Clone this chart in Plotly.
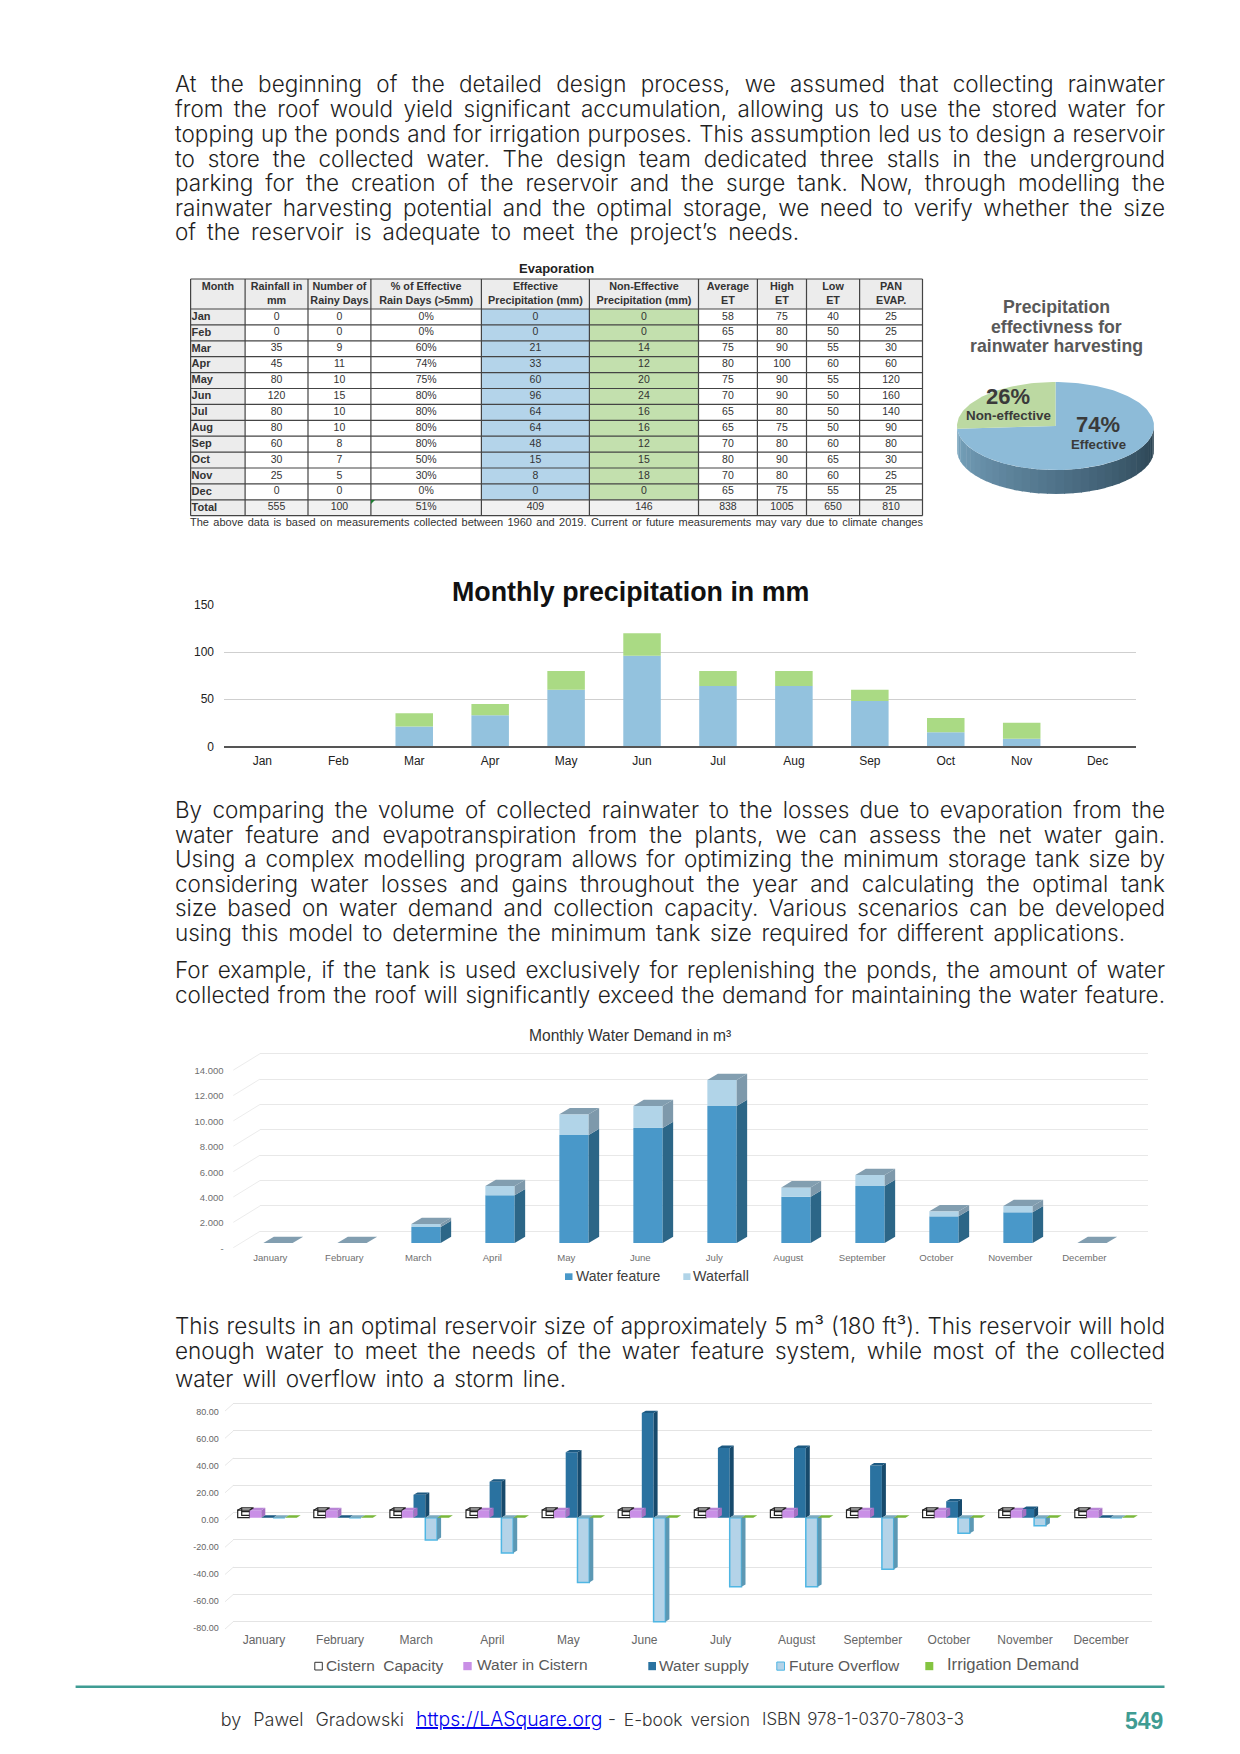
import json
import numpy as np
import plotly.graph_objects as go

W, H = 1240, 1754
SANS = "Liberation Sans"
BODY = "Inter"

# ---------------- text ----------------
para_lines = [
    ("At the beginning of the detailed design process, we assumed that collecting rainwater", 84, 1165),
    ("from the roof would yield significant accumulation, allowing us to use the stored water for", 108.7, 1165),
    ("topping up the ponds and for irrigation purposes. This assumption led us to design a reservoir", 133.4, 1165),
    ("to store the collected water. The design team dedicated three stalls in the underground", 158, 1165),
    ("parking for the creation of the reservoir and the surge tank. Now, through modelling the", 182.7, 1165),
    ("rainwater harvesting potential and the optimal storage, we need to verify whether the size", 207.4, 1165),
    ("of the reservoir is adequate to meet the project’s needs.", 232, 799),
    ("By comparing the volume of collected rainwater to the losses due to evaporation from the", 809.5, 1165),
    ("water feature and evapotranspiration from the plants, we can assess the net water gain.", 834, 1165),
    ("Using a complex modelling program allows for optimizing the minimum storage tank size by", 858.6, 1165),
    ("considering water losses and gains throughout the year and calculating the optimal tank", 883.2, 1165),
    ("size based on water demand and collection capacity. Various scenarios can be developed", 907.8, 1165),
    ("using this model to determine the minimum tank size required for different applications.", 932.5, 1125),
    ("For example, if the tank is used exclusively for replenishing the ponds, the amount of water", 969.3, 1165),
    ("collected from the roof will significantly exceed the demand for maintaining the water feature.", 994, 1165),
    ("This results in an optimal reservoir size of approximately 5 m³ (180 ft³). This reservoir will hold", 1325, 1165),
    ("enough water to meet the needs of the water feature system, while most of the collected", 1350, 1165),
    ("water will overflow into a storm line.", 1378, 566),
]
note_line = "The above data is based on measurements collected between 1960 and 2019. Current or future measurements may vary due to climate changes"

# ---------------- table data ----------------
months_short = ["Jan", "Feb", "Mar", "Apr", "May", "Jun", "Jul", "Aug", "Sep", "Oct", "Nov", "Dec"]
months_long = ["January", "February", "March", "April", "May", "June", "July", "August",
               "September", "October", "November", "December"]
table_headers = ["Month", "Rainfall in<br>mm", "Number of<br>Rainy Days", "% of Effective<br>Rain Days (>5mm)",
                 "Effective<br>Precipitation (mm)", "Non-Effective<br>Precipitation (mm)", "Average<br>ET",
                 "High<br>ET", "Low<br>ET", "PAN<br>EVAP."]
rainfall = [0, 0, 35, 45, 80, 120, 80, 80, 60, 30, 25, 0, 555]
rainy_days = [0, 0, 9, 11, 10, 15, 10, 10, 8, 7, 5, 0, 100]
pct_effective = ["0%", "0%", "60%", "74%", "75%", "80%", "80%", "80%", "80%", "50%", "30%", "0%", "51%"]
effective_total = [0, 0, 21, 33, 60, 96, 64, 64, 48, 15, 8, 0, 409]
non_effective_total = [0, 0, 14, 12, 20, 24, 16, 16, 12, 15, 18, 0, 146]
average_et = [58, 65, 75, 80, 75, 70, 65, 65, 70, 80, 70, 65, 838]
high_et = [75, 80, 90, 100, 90, 90, 80, 75, 80, 90, 80, 75, 1005]
low_et = [40, 50, 55, 60, 55, 50, 50, 50, 60, 65, 60, 55, 650]
pan_evap = [25, 25, 30, 60, 120, 160, 140, 90, 80, 30, 25, 25, 810]

# ---------------- pie data ----------------
pie_labels = ["Effective", "Non-effective"]
pie_values = [74, 26]

# ---------------- monthly precipitation ----------------
precip_effective = [0, 0, 21, 33, 60, 96, 64, 64, 48, 15, 8, 0]
precip_non_effective = [0, 0, 14, 12, 20, 24, 16, 16, 12, 15, 17, 0]

# ---------------- monthly water demand ----------------
water_feature = [0, 0, 1260, 3760, 8515, 9070, 10800, 3650, 4495, 2100, 2420, 0]
waterfall = [0, 0, 240, 735, 1630, 1730, 2050, 735, 865, 395, 500, 0]
demand_ticks = [0, 2000, 4000, 6000, 8000, 10000, 12000, 14000]
demand_ticktext = ["-", "2.000", "4.000", "6.000", "8.000", "10.000", "12.000", "14.000"]

# ---------------- cistern balance ----------------
cistern_capacity = [5.5, 5.5, 5.5, 5.5, 5.5, 5.5, 5.5, 5.5, 5.5, 5.5, 5.5, 5.5]
water_in_cistern = [5.5, 5.5, 5.5, 5.5, 5.5, 5.5, 5.5, 5.5, 5.5, 5.5, 5.5, 5.5]
water_supply = [0, 0, 16.8, 26.4, 48, 76.8, 51.2, 51.2, 38.4, 12, 6.4, 0]
future_overflow = [0, 0, -16.3, -25.9, -47.5, -76.3, -50.7, -50.7, -37.9, -11.5, -5.9, 0]
irrigation_demand = [0, 0, 0, 0, 0, 0, 0, 0, 0, 0, 0, 0]
balance_ticks = [-80, -60, -40, -20, 0, 20, 40, 60, 80]

# ---------------- helpers ----------------
def dx(a, b):
    return [a / W, b / W]

def dy(t, b):
    return [1 - b / H, 1 - t / H]

fig = go.Figure()
annotations, shapes, axes = [], [], {}

def txt(x, y, text, size, color="#222", anchor="left", family=SANS, bold=False, weight=None):
    font = dict(size=size, color=color, family=family)
    if bold:
        font["weight"] = 700
    if weight:
        font["weight"] = weight
    annotations.append(dict(x=x / W, y=1 - y / H, xref="paper", yref="paper", text=text, showarrow=False,
                            xanchor=anchor, yanchor="middle", font=font, borderpad=0, borderwidth=0))

def rect_px(x0, y0, x1, y1, fill, line=None, lw=0):
    shapes.append(dict(type="rect", xref="paper", yref="paper", x0=x0 / W, x1=x1 / W, y0=1 - y0 / H, y1=1 - y1 / H,
                       fillcolor=fill, line=dict(color=line or fill, width=lw), layer="below"))

def line_px(x0, y0, x1, y1, color, width=1, layer="below"):
    shapes.append(dict(type="line", xref="paper", yref="paper", x0=x0 / W, x1=x1 / W, y0=1 - y0 / H, y1=1 - y1 / H,
                       line=dict(color=color, width=width), layer=layer))

def polys(rings):
    xs, ys = [], []
    for r in rings:
        for p in r + [r[0]]:
            xs.append(p[0]); ys.append(p[1])
        xs.append(None); ys.append(None)
    return xs, ys

def face(rings, color, n, name):
    xs, ys = polys(rings)
    fig.add_trace(go.Scatter(x=xs, y=ys, mode="lines", fill="toself", fillcolor=color,
                             line=dict(width=0, color=color), hoverinfo="skip", showlegend=False,
                             name=name, xaxis=f"x{n}", yaxis=f"y{n}"))

def label_axis(n, x0, x1, t, b, rng, vals, text, size, color):
    axes[f"xaxis{n}"] = dict(domain=dx(x0, x1), anchor=f"y{n}", visible=False, range=[0, 1])
    axes[f"yaxis{n}"] = dict(domain=dy(t, b), anchor=f"x{n}", range=rng, tickmode="array", tickvals=vals,
                             ticktext=text, showgrid=False, zeroline=False, showline=False, ticks="outside",
                             ticklen=2, tickcolor="rgba(0,0,0,0)", tickfont=dict(size=size, color=color, family=SANS))
    fig.add_trace(go.Scatter(x=[0.5], y=[vals[0]], mode="markers", marker=dict(size=1, opacity=0),
                             hoverinfo="skip", showlegend=False, xaxis=f"x{n}", yaxis=f"y{n}"))

# ---------------- paragraphs ----------------
fit = {}
for line, y, xr in para_lines:
    txt(175, y, line, 22.5, "#1f1f1f", family=BODY, weight=300)
    fit[line] = [175, xr]

# ---------------- table ----------------
col_edges = [190.6, 245.1, 308, 370.9, 481.4, 589.4, 698.5, 757.4, 806.5, 859.6, 922.5]
row_px = 15.9
top_px, head_px = 279, 309
row_edges = [head_px + r * row_px for r in range(14)]
rows = months_short + ["Total"]
body_cols = [rainfall, rainy_days, pct_effective, effective_total, non_effective_total, average_et, high_et,
             low_et, pan_evap]
centres = [(a + b) / 2 for a, b in zip(col_edges[:-1], col_edges[1:])]
grey = "#ececec"
rect_px(col_edges[0], top_px, col_edges[-1], head_px, grey)
rect_px(col_edges[0], head_px, col_edges[1], row_edges[-1], grey)
rect_px(col_edges[1], row_edges[-2], col_edges[-1], row_edges[-1], "#f1f1f1")
rect_px(col_edges[4], head_px, col_edges[5], row_edges[-2], "#b4d4ea")
rect_px(col_edges[5], head_px, col_edges[6], row_edges[-2], "#c3e0ae")
for y in [top_px] + row_edges:
    line_px(col_edges[0], y, col_edges[-1], y, "#444", 1.2, "above")
for x in col_edges:
    line_px(x, top_px, x, row_edges[-1], "#444", 1.2, "above")
axes["xaxis7"] = dict(domain=dx(190, 923.5), anchor="y7", range=[190, 923.5], showgrid=False, zeroline=False,
                      showline=False, showticklabels=False, ticks="")
axes["yaxis7"] = dict(domain=dy(278, 516.7), anchor="x7", range=[12.5 + 1 / row_px, -0.5 - 31 / row_px],
                      showgrid=False, zeroline=False, showline=False, showticklabels=False, ticks="")
head_y = -0.5 - 15 / row_px
fig.add_trace(go.Scatter(x=centres, y=[head_y - 6.5 / row_px] + [head_y] * 9, mode="text",
                         text=[f"<b>{h}</b>" for h in table_headers], textposition="middle center",
                         textfont=dict(size=10.8, color="#333", family=SANS), hoverinfo="skip", showlegend=False,
                         name="Table header", xaxis="x7", yaxis="y7"))
fig.add_trace(go.Scatter(x=[col_edges[0] + 1] * 13, y=list(range(13)), mode="text",
                         text=[f"<b>{m}</b>" for m in rows], textposition="middle right",
                         textfont=dict(size=11, color="#333", family=SANS), hoverinfo="skip", showlegend=False,
                         name="Month", xaxis="x7", yaxis="y7"))
for c, col in zip(centres[1:], body_cols):
    fig.add_trace(go.Scatter(x=[c] * 13, y=list(range(13)), mode="text", text=[str(v) for v in col],
                             textposition="middle center", textfont=dict(size=10.5, color="#333", family=SANS),
                             hoverinfo="skip", showlegend=False, xaxis="x7", yaxis="y7"))
txt(556.5, 269, "Evaporation", 13, "#222", "center", bold=True)
txt(190, 522, note_line, 11, "#333")
fit[note_line] = [190, 923]
shapes.append(dict(type="path", xref="paper", yref="paper",
                   path=f"M {371/W} {1-500/H} L {375/W} {1-500/H} L {371/W} {1-504/H} Z",
                   fillcolor="#1e7d32", line=dict(width=0)))

# ---------------- pie ----------------
axes["xaxis1"] = dict(domain=dx(945, 1165), anchor="y1", range=[945, 1165], visible=False)
axes["yaxis1"] = dict(domain=dy(375, 500), anchor="x1", range=[500, 375], visible=False)
cx, cy, ra, rb, depth = 1055.5, 426, 98.5, 44, 24
share_blue = pie_values[0] / sum(pie_values)
def ell(t):
    return cx + ra * np.cos(t), cy - rb * np.sin(t)
wall_cols_n = 36
edges = np.linspace(np.pi, 2 * np.pi, wall_cols_n + 1)
c_l, c_m, c_r = np.array([122, 166, 192]), np.array([80, 115, 138]), np.array([40, 64, 78])
for i in range(wall_cols_n):
    f = i / (wall_cols_n - 1)
    c = c_l + (c_m - c_l) * f * 2 if f < 0.5 else c_m + (c_r - c_m) * (f - 0.5) * 2
    tt = np.linspace(edges[i], edges[i + 1] + 0.01, 4)
    px_, py_ = ell(tt)
    ring_x = list(px_) + list(px_[::-1])
    ring_y = list(py_) + list((py_ + depth)[::-1])
    col = "rgb(%d,%d,%d)" % tuple(c)
    fig.add_trace(go.Scatter(x=ring_x + [ring_x[0]], y=ring_y + [ring_y[0]], mode="lines", fill="toself",
                             fillcolor=col, line=dict(width=0, color=col), hoverinfo="skip",
                             showlegend=False, xaxis="x1", yaxis="y1"))
start = np.pi / 2
t_blue = np.linspace(start, start - 2 * np.pi * share_blue, 160)
t_green = np.linspace(start, start + 2 * np.pi * (1 - share_blue), 60)
for tset, col, name in ((t_blue, "#8dbbd8", pie_labels[0]), (t_green, "#bcd9a2", pie_labels[1])):
    ex, ey = ell(tset)
    fig.add_trace(go.Scatter(x=[cx] + list(ex) + [cx], y=[cy] + list(ey) + [cy], mode="lines", fill="toself",
                             fillcolor=col, line=dict(width=0, color=col), name=name, hoverinfo="skip",
                             showlegend=False, xaxis="x1", yaxis="y1"))
for y, t in ((307, "Precipitation"), (327, "effectivness for"), (346, "rainwater harvesting")):
    txt(1056, y, t, 17.7, "#595959", "center", bold=True)
txt(1007.5, 397, "26%", 22, "#3a3a3a", "center", bold=True)
txt(1008, 416, "Non-effective", 13.4, "#3a3a3a", "center", bold=True)
txt(1098, 425, "74%", 22, "#3a3a3a", "center", bold=True)
txt(1098, 445, "Effective", 13.2, "#3a3a3a", "center", bold=True)

# ---------------- monthly precipitation ----------------
axes["xaxis2"] = dict(domain=dx(224.4, 1135.6), anchor="y2", type="category", categoryorder="array",
                      categoryarray=months_short, range=[-0.5, 11.5], showgrid=False, zeroline=False,
                      showline=True, linecolor="#555", linewidth=1.5, ticks="outside", ticklen=3,
                      tickcolor="rgba(0,0,0,0)", tickfont=dict(size=12, color="#222", family=SANS))
axes["yaxis2"] = dict(domain=dy(605, 746.3), anchor="x2", range=[0, 150], tickvals=[0, 50, 100, 150],
                      showgrid=True, gridcolor="#cfcfcf", gridwidth=1, zeroline=False, showline=False,
                      ticks="outside", ticklen=7, tickcolor="rgba(0,0,0,0)",
                      tickfont=dict(size=12, color="#222", family=SANS))
fig.add_trace(go.Bar(x=months_short, y=precip_effective, width=0.494, marker=dict(color="#93c2de", line=dict(width=0)),
                     name="Effective", showlegend=False, xaxis="x2", yaxis="y2"))
fig.add_trace(go.Bar(x=months_short, y=precip_non_effective, width=0.494, marker=dict(color="#aada84", line=dict(width=0)),
                     name="Non-effective", showlegend=False, xaxis="x2", yaxis="y2"))
txt(630, 592, "Monthly precipitation in mm", 26.8, "#111", "center", bold=True)

# ---------------- monthly water demand ----------------
d_idx = list(range(12))
upx = 2000 / 25.37                    # value units per pixel
d_dx, d_dy = 10.5 / 74, 6.3 * upx      # depth of a bar, in axis units
d_w = 29.3 / 74
axes["xaxis3"] = dict(domain=dx(260, 1148), anchor="y3", range=[-18 / 74, 870 / 74], showgrid=False, zeroline=False,
                      showline=False, tickmode="array", tickvals=[i - 7.7 / 74 for i in d_idx], ticktext=months_long,
                      ticks="outside", ticklen=5, tickcolor="rgba(0,0,0,0)",
                      tickfont=dict(size=9.6, color="#6f6f6f", family=SANS))
axes["yaxis3"] = dict(domain=dy(1050, 1243), anchor="x3", range=[0, 193 * upx], showgrid=True, gridcolor="#e8e8e8",
                      gridwidth=1, zeroline=False, showline=False, showticklabels=False, ticks="",
                      tickmode="array", tickvals=[v + 11.7 * upx for v in demand_ticks])
fig.add_trace(go.Bar(x=d_idx, y=water_feature, width=d_w, marker=dict(color="#4998c9", line=dict(width=0)),
                     name="Water feature", showlegend=False, xaxis="x3", yaxis="y3"))
fig.add_trace(go.Bar(x=d_idx, y=waterfall, width=d_w, marker=dict(color="#b1d4e8", line=dict(width=0)),
                     name="Waterfall", showlegend=False, xaxis="x3", yaxis="y3"))
side_a, side_b, tops = [], [], []
for i in d_idx:
    x1 = i + d_w / 2
    x0 = i - d_w / 2
    a, t = water_feature[i], water_feature[i] + waterfall[i]
    if a > 0:
        side_a.append([(x1, 0), (x1, a), (x1 + d_dx, a + d_dy), (x1 + d_dx, d_dy)])
        side_b.append([(x1, a), (x1, t), (x1 + d_dx, t + d_dy), (x1 + d_dx, a + d_dy)])
    tops.append([(x0, t), (x1, t), (x1 + d_dx, t + d_dy), (x0 + d_dx, t + d_dy)])
face(side_a, "#2c6687", 3, "Water feature side")
face(side_b, "#7e99ab", 3, "Waterfall side")
face(tops, "#829eb0", 3, "Top")
label_axis(4, 228.5, 232, 1060, 1256, [(1248.3 - 1256) * upx, (1248.3 - 1060) * upx], demand_ticks, demand_ticktext,
           9.5, "#6f6f6f")
for k in range(8):
    line_px(233.3, 1247.7 - k * 25.37, 260, 1231.3 - k * 25.37, "#ececec", 1)
txt(630, 1035, "Monthly Water Demand in m³", 15.6, "#333", "center")
rect_px(565, 1273.3, 572.5, 1280, "#4998c9")
txt(576, 1276.3, "Water feature", 14, "#404040")
rect_px(683.3, 1273.3, 690.5, 1280, "#b1d4e8")
txt(693.3, 1276.3, "Waterfall", 14.3, "#404040")

# ---------------- cistern balance ----------------
b_idx = list(range(12))
b_w = 11.8 / 76.1
upy = 1 / 1.3625
b_dx, b_dy = 4 / 76.1, 2.4 * upy
axes["xaxis5"] = dict(domain=dx(233.3, 1151.7), anchor="y5", range=[-33.9 / 76.1, 884.5 / 76.1], showgrid=False,
                      zeroline=False, showline=False, tickmode="array", tickvals=[i - 3.2 / 76.1 for i in b_idx],
                      ticktext=months_long, ticks="outside", ticklen=4, tickcolor="rgba(0,0,0,0)",
                      tickfont=dict(size=12, color="#666", family=SANS))
axes["yaxis5"] = dict(domain=dy(1400, 1625), anchor="x5", range=[-107.3 * upy, 117.7 * upy], showgrid=True,
                      gridcolor="#e4e4e4", gridwidth=1, zeroline=False, showline=False, showticklabels=False,
                      ticks="", tickmode="array", tickvals=[v + 5 * upy for v in balance_ticks])
series = [("Cistern Capacity", cistern_capacity, "rgba(255,255,255,0.9)", "#222", 1.2, None, None),
          ("Water in Cistern", water_in_cistern, "#c98fe6", "#c98fe6", 0, "#a670c2", "#b985d6"),
          ("Water supply", water_supply, "#2a72a0", "#2a72a0", 0, "#174a6c", "#1d5a82"),
          ("Future Overflow", future_overflow, "#b4d3e8", "#4fb6e3", 1.5, "#5c98b4", "#7eaabf"),
          ("Irrigation Demand", irrigation_demand, "#84c441", "#84c441", 0, "#6ea838", "#7ab83a")]
for k, (name, vals, fill, lc, lw, side_c, top_c) in enumerate(series):
    fig.add_trace(go.Bar(x=[i + (k - 2) * b_w for i in b_idx], y=vals, width=b_w,
                         marker=dict(color=fill, line=dict(color=lc, width=lw)), name=name, showlegend=False,
                         xaxis="x5", yaxis="y5"))
for k, (name, vals, fill, lc, lw, side_c, top_c) in enumerate(series):
    if side_c is None:
        continue
    sides, top_f = [], []
    for i in b_idx:
        x0 = i + (k - 2.5) * b_w
        x1 = x0 + b_w
        hi, lo = max(vals[i], 0), min(vals[i], 0)
        if hi != lo:
            sides.append([(x1, lo), (x1, hi), (x1 + b_dx, hi + b_dy), (x1 + b_dx, lo + b_dy)])
        top_f.append([(x0, hi), (x1, hi), (x1 + b_dx, hi + b_dy), (x0 + b_dx, hi + b_dy)])
    if sides:
        face(sides, side_c, 5, name + " side")
    face(top_f, top_c, 5, name + " top")
# wireframe of the cistern capacity boxes
wx, wy = [], []
for i in b_idx:
    x0 = i - 2.5 * b_w
    x1 = x0 + b_w
    v = cistern_capacity[i]
    for seg in ([(x0, v), (x0 + b_dx, v + b_dy), (x1 + b_dx, v + b_dy), (x1, v)],
                [(x0 + b_dx, v + b_dy), (x0 + b_dx, b_dy), (x1, b_dy)],
                [(x0 + b_dx, v / 2 + b_dy), (x1, v / 2 + b_dy)]):
        for p in seg:
            wx.append(p[0]); wy.append(p[1])
        wx.append(None); wy.append(None)
fig.add_trace(go.Scatter(x=wx, y=wy, mode="lines", line=dict(color="#222", width=1.2), hoverinfo="skip",
                         showlegend=False, name="Cistern Capacity frame", xaxis="x5", yaxis="y5"))
upl = 1 / 1.35
label_axis(6, 223.5, 227, 1405, 1635, [(1520 - 1635) * upl, (1520 - 1405) * upl], balance_ticks,
           [f"{v:.2f}" for v in balance_ticks], 9, "#666")
for k in range(9):
    line_px(225, 1411 + k * 27.25, 233.3, 1403.7 + k * 27.25, "#e8e8e8", 1)
legend_y = 1665
rect_px(314.8, 1662.3, 322.3, 1670, "#fff", "#333", 1)
txt(326, legend_y, "Cistern  Capacity", 15.4, "#595959")
rect_px(463.3, 1662, 471.7, 1670.2, "#c98fe6")
txt(477.3, legend_y - 0.5, "Water in Cistern", 15.5, "#595959")
rect_px(648.3, 1662, 656, 1670.2, "#2a72a0")
txt(659.3, legend_y, "Water supply", 15.5, "#595959")
rect_px(776.8, 1662, 784.5, 1670.2, "#b4d3e8", "#4fb6e3", 1)
txt(788.7, legend_y, "Future Overflow", 15.5, "#595959")
rect_px(925.3, 1662, 933.3, 1670.2, "#84c441")
txt(946.7, legend_y - 1, "Irrigation Demand", 16.6, "#595959")

# ---------------- footer ----------------
line_px(75.6, 1686.7, 1164.5, 1686.7, "#3f9c93", 2.5)
foot = [("by Pawel Gradowski", 220.8, 404, 18), ("- E-book version", 608, 750, 17.5),
        ("ISBN 978-1-0370-7803-3", 762, 964, 16.9)]
for t, x0, x1, sz in foot:
    txt(x0, 1719.3, t, sz, "#333", family=BODY, weight=300)
    fit[t] = [x0, x1]
txt(415.5, 1719.3, "<u>https://LASquare.org</u>", 19.4, "#0000ee", family=BODY, weight=300)
txt(1125, 1720.7, "549", 23, "#3f9c93", bold=True)

fig.update_layout(template="none", width=W, height=H, autosize=False, margin=dict(l=0, r=0, t=0, b=0, pad=0),
                  paper_bgcolor="#fff", plot_bgcolor="rgba(0,0,0,0)", barmode="relative", showlegend=False,
                  annotations=annotations, shapes=shapes, **axes)

js = """
document.body.style.margin = '0';
document.documentElement.style.overflow = 'hidden';
var FIT = %s;
function fitText() {
  document.querySelectorAll('.annotation-text').forEach(function (el) {
    var t = FIT[el.textContent];
    if (!t) return;
    var spaces = (el.textContent.match(/ /g) || []).length;
    el.style.wordSpacing = '0px';
    var base = el.getComputedTextLength();
    if (spaces > 0) el.style.wordSpacing = (((t[1] - t[0]) - base) / spaces) + 'px';
    var r = el.getBoundingClientRect();
    el.setAttribute('x', parseFloat(el.getAttribute('x') || 0) + (t[0] - r.left));
  });
}
fitText();
setTimeout(fitText, 100);
""" % json.dumps(fit, ensure_ascii=False)

fig.write_html("out.html", config={"displayModeBar": False}, post_script=js)
